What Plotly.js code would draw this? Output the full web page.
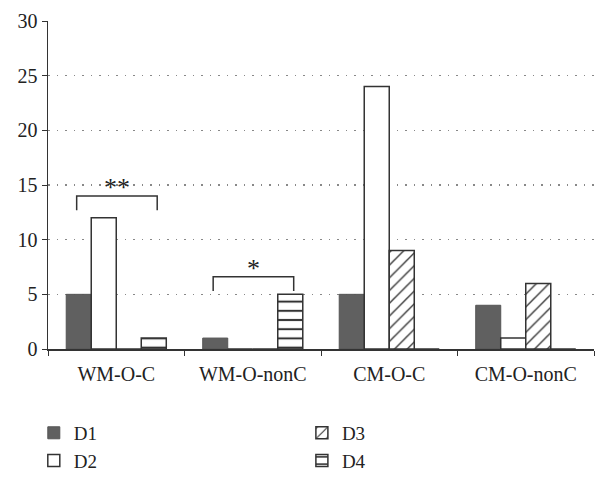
<!DOCTYPE html>
<html>
<head>
<meta charset="utf-8">
<script src="https://cdn.plot.ly/plotly-3.0.1.min.js"></script>
<style>html,body{margin:0;padding:0;background:#fff;}</style>
</head>
<body>
<div id="chart" style="width:608px;height:479px;"></div>
<script>
const categories = ["WM-O-C", "WM-O-nonC", "CM-O-C", "CM-O-nonC"];
const seriesNames = ["D1", "D2", "D3", "D4"];
const d1 = [5, 1, 5, 4];
const d2 = [12, 0, 24, 1];
const d3 = [0, 0, 9, 6];
const d4 = [1, 5, 0, 0];
const yTicks = [0, 5, 10, 15, 20, 25, 30];
const sigMarks = [{cat: 0, label: "**", top: 14}, {cat: 1, label: "*", top: 6.6}];

const font = "Liberation Serif, DejaVu Serif, serif";
const edge = {color: "#333", width: 1.5};
const traces = [
  {name: seriesNames[0], y: d1, marker: {color: "#606060", line: {color: "#555", width: 1}}, legend: "legend"},
  {name: seriesNames[1], y: d2, marker: {color: "#fff", line: edge}, legend: "legend"},
  {name: seriesNames[2], y: d3, marker: {color: "#fff", line: edge, pattern: {shape: "/", fgcolor: "#333", bgcolor: "#fff", size: 9, solidity: 0.15}}, legend: "legend2"},
  {name: seriesNames[3], y: d4, marker: {color: "#fff", line: edge, pattern: {shape: "-", fgcolor: "#333", bgcolor: "#fff", size: 9.2, solidity: 0.22}}, legend: "legend2"}
].map(t => Object.assign({type: "bar", x: categories, hoverinfo: "skip"}, t));

const shapes = [];
const annotations = [];
sigMarks.forEach(s => {
  const x0 = s.cat - 0.29, x1 = s.cat + 0.3, drop = 1.3;
  shapes.push({type: "path", xref: "x", yref: "y",
    path: `M ${x0},${s.top - drop} L ${x0},${s.top} L ${x1},${s.top} L ${x1},${s.top - drop}`,
    line: {color: "#333", width: 1.5}});
  annotations.push({xref: "x", yref: "y", x: (x0 + x1) / 2, y: s.top - 0.75, text: s.label,
    showarrow: false, yanchor: "bottom", font: {family: font, size: 26, color: "#222"}});
});

const legFont = {family: font, size: 19, color: "#222"};
const layout = {
  width: 608, height: 479,
  margin: {l: 48, r: 14, t: 21, b: 130, autoexpand: false},
  paper_bgcolor: "#fff", plot_bgcolor: "#fff",
  barmode: "group", bargap: 0.267, bargroupgap: 0,
  font: {family: font, size: 20, color: "#222"},
  showlegend: true,
  xaxis: {type: "category", showline: true, linecolor: "#333", linewidth: 1.5,
    ticks: "outside", tickson: "boundaries", ticklen: 5, tickcolor: "#333",
    ticklabelstandoff: 6,
    tickfont: {family: font, size: 20, color: "#222"}, showgrid: false, fixedrange: true},
  yaxis: {range: [0, 30], tickvals: yTicks, showline: true, linecolor: "#333", linewidth: 1.5,
    ticks: "outside", ticklen: 5, tickcolor: "#333", zeroline: false,
    showgrid: true, gridcolor: "#888", griddash: "1.5px,7px", gridwidth: 1.2,
    tickfont: {family: font, size: 20, color: "#222"}, fixedrange: true},
  legend: {x: -0.026, y: -0.198, xanchor: "left", yanchor: "top", orientation: "v",
    font: legFont, bgcolor: "rgba(0,0,0,0)", traceorder: "normal"},
  legend2: {x: 0.465, y: -0.198, xanchor: "left", yanchor: "top", orientation: "v",
    font: legFont, bgcolor: "rgba(0,0,0,0)", traceorder: "normal"},
  shapes: shapes,
  annotations: annotations
};

Plotly.newPlot("chart", traces, layout, {displayModeBar: false, staticPlot: true});
</script>
</body>
</html>
